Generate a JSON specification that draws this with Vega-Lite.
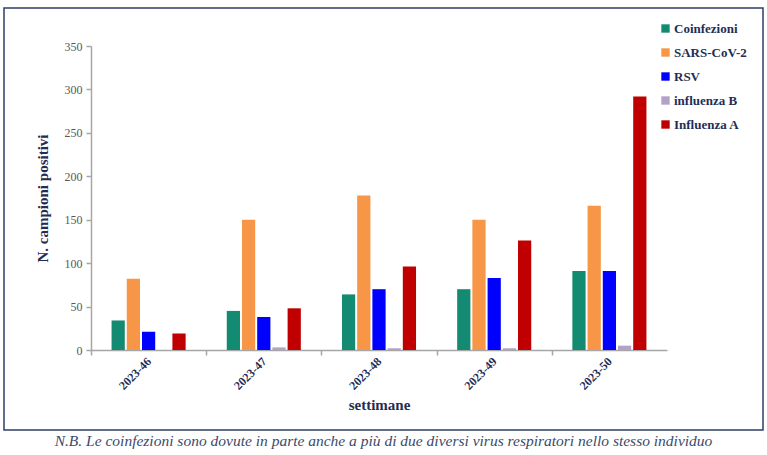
{
  "$schema": "https://vega.github.io/schema/vega-lite/v6.json",
  "autosize": {"type": "none"},
  "width": 759,
  "height": 422,
  "padding": {"left": 4, "top": 8, "right": 4, "bottom": 25},
  "background": "#ffffff",
  "title": {
    "text": "N.B. Le coinfezioni sono dovute in parte anche a più di due diversi virus respiratori nello stesso individuo",
    "orient": "bottom",
    "anchor": "middle",
    "frame": "group",
    "offset": 4,
    "font": "Liberation Serif",
    "fontSize": 15.5,
    "fontStyle": "italic",
    "fontWeight": "normal",
    "color": "#3b4a6b"
  },
  "data": {
    "values": [
      {"settimana": "2023-46", "tipo": "Coinfezioni", "n": 34},
      {"settimana": "2023-46", "tipo": "SARS-CoV-2", "n": 82},
      {"settimana": "2023-46", "tipo": "RSV", "n": 21},
      {"settimana": "2023-46", "tipo": "influenza B", "n": 0},
      {"settimana": "2023-46", "tipo": "Influenza A", "n": 19},
      {"settimana": "2023-47", "tipo": "Coinfezioni", "n": 45},
      {"settimana": "2023-47", "tipo": "SARS-CoV-2", "n": 150},
      {"settimana": "2023-47", "tipo": "RSV", "n": 38},
      {"settimana": "2023-47", "tipo": "influenza B", "n": 3},
      {"settimana": "2023-47", "tipo": "Influenza A", "n": 48},
      {"settimana": "2023-48", "tipo": "Coinfezioni", "n": 64},
      {"settimana": "2023-48", "tipo": "SARS-CoV-2", "n": 178},
      {"settimana": "2023-48", "tipo": "RSV", "n": 70},
      {"settimana": "2023-48", "tipo": "influenza B", "n": 2},
      {"settimana": "2023-48", "tipo": "Influenza A", "n": 96},
      {"settimana": "2023-49", "tipo": "Coinfezioni", "n": 70},
      {"settimana": "2023-49", "tipo": "SARS-CoV-2", "n": 150},
      {"settimana": "2023-49", "tipo": "RSV", "n": 83},
      {"settimana": "2023-49", "tipo": "influenza B", "n": 2},
      {"settimana": "2023-49", "tipo": "Influenza A", "n": 126},
      {"settimana": "2023-50", "tipo": "Coinfezioni", "n": 91},
      {"settimana": "2023-50", "tipo": "SARS-CoV-2", "n": 166},
      {"settimana": "2023-50", "tipo": "RSV", "n": 91},
      {"settimana": "2023-50", "tipo": "influenza B", "n": 5},
      {"settimana": "2023-50", "tipo": "Influenza A", "n": 292}
    ]
  },
  "mark": {"type": "bar"},
  "encoding": {
    "x": {
      "field": "settimana",
      "type": "nominal",
      "scale": {"range": [87, 663], "paddingInner": 0.357, "paddingOuter": 0.1785},
      "axis": {
        "orient": "bottom",
        "offset": -80,
        "title": "settimane",
        "titleFont": "Liberation Serif",
        "titleFontSize": 15,
        "titleFontWeight": "bold",
        "titleColor": "#1f2d55",
        "titlePadding": 6,
        "tickOffset": -57.6,
        "labelOffset": 57.6,
        "labelAngle": -45,
        "labelAlign": "right",
        "labelBaseline": "middle",
        "labelPadding": 4,
        "labelFont": "Liberation Serif",
        "labelFontSize": 12,
        "labelFontWeight": "bold",
        "labelColor": "#1f2d55",
        "domainColor": "#a6a6a6",
        "domainWidth": 1.5,
        "tickColor": "#a6a6a6",
        "tickSize": 5,
        "tickWidth": 1.5
      }
    },
    "xOffset": {
      "field": "tipo",
      "type": "nominal",
      "sort": ["Coinfezioni", "SARS-CoV-2", "RSV", "influenza B", "Influenza A"],
      "scale": {"paddingInner": 0.13, "paddingOuter": 0}
    },
    "y": {
      "field": "n",
      "type": "quantitative",
      "scale": {"domain": [0, 350], "range": [342, 38], "nice": false},
      "axis": {
        "orient": "left",
        "offset": -87,
        "values": [0, 50, 100, 150, 200, 250, 300, 350],
        "grid": false,
        "title": "N. campioni positivi",
        "titleFont": "Liberation Serif",
        "titleFontSize": 15,
        "titleFontWeight": "bold",
        "titleColor": "#1f2d55",
        "titlePadding": 14,
        "labelFont": "Liberation Serif",
        "labelFontSize": 12,
        "labelColor": "#595959",
        "labelPadding": 4,
        "domainColor": "#a6a6a6",
        "domainWidth": 1.5,
        "tickColor": "#a6a6a6",
        "tickSize": 5,
        "tickWidth": 1.5
      }
    },
    "color": {
      "field": "tipo",
      "type": "nominal",
      "scale": {
        "domain": ["Coinfezioni", "SARS-CoV-2", "RSV", "influenza B", "Influenza A"],
        "range": ["#138a72", "#f79646", "#0000ff", "#b3a2c7", "#c00000"]
      },
      "legend": {
        "title": null,
        "orient": "none",
        "legendX": 655,
        "legendY": 14,
        "symbolType": "square",
        "symbolSize": 70,
        "symbolStrokeWidth": 0,
        "labelFont": "Liberation Serif",
        "labelFontSize": 13,
        "labelFontWeight": "bold",
        "labelColor": "#1f2d55",
        "labelOffset": 2,
        "rowPadding": 10
      }
    }
  },
  "config": {
    "view": {"stroke": "#2f3e66", "strokeWidth": 1.5}
  }
}
